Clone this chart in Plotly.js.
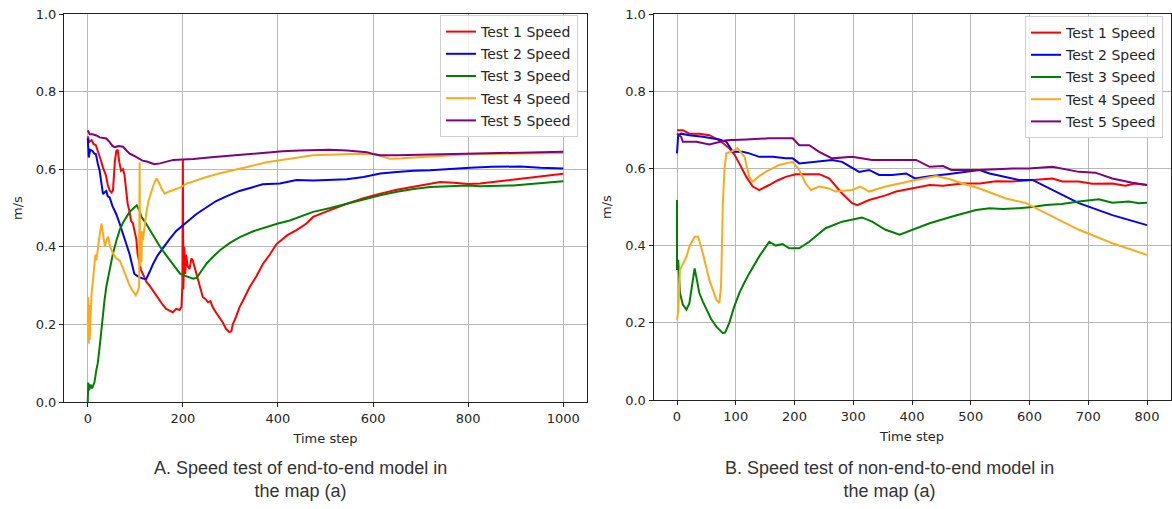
<!DOCTYPE html>
<html>
<head>
<meta charset="utf-8">
<script src="https://cdn.plot.ly/plotly-3.0.1.min.js"></script>
<style>html,body{margin:0;padding:0;background:#fff;}#chart{width:1172px;height:509px;}</style>
</head>
<body>
<div id="chart"></div>
<script>
// ---------- Chart A: end-to-end model ----------
const seriesNames = ["Test 1 Speed", "Test 2 Speed", "Test 3 Speed", "Test 4 Speed", "Test 5 Speed"];
const seriesColors = ["#ff0000", "#0000ff", "#008000", "#fcaa1c", "#800080"];

const a1x = [0,3,8,12,17,22,27,32,38,42,46,50,53,57,60,63,66,70,74,77,80,84,88,91,95,98,102,105,109,112,116,123,130,137,144,151,158,165,172,179,186,193,197,199,200,201,203,205,207,210,214,218,221,225,228,235,242,248,253,258,263,270,277,284,291,298,302,305,312,319,330,340,355,368,383,397,420,439,460,474,500,545,580,615,650,685,720,741,770,800,825,860,900,950,1000];
const a1y = [0.685,0.67,0.675,0.665,0.662,0.64,0.625,0.604,0.585,0.56,0.545,0.54,0.545,0.62,0.647,0.65,0.62,0.596,0.6,0.587,0.55,0.51,0.49,0.467,0.46,0.44,0.42,0.38,0.36,0.34,0.33,0.31,0.3,0.287,0.275,0.26,0.25,0.24,0.235,0.231,0.24,0.237,0.245,0.3,0.626,0.29,0.4,0.33,0.38,0.35,0.343,0.37,0.364,0.345,0.33,0.3,0.27,0.265,0.257,0.26,0.244,0.23,0.218,0.205,0.188,0.18,0.182,0.2,0.22,0.244,0.27,0.295,0.325,0.355,0.38,0.407,0.43,0.443,0.46,0.477,0.49,0.511,0.525,0.537,0.547,0.554,0.562,0.567,0.565,0.562,0.563,0.568,0.575,0.581,0.588];

const a2x = [0,2,5,10,14,17,21,25,28,32,35,39,42,46,52,60,67,74,81,88,93,98,104,109,116,123,130,137,147,158,172,186,207,228,250,270,295,319,345,368,404,439,474,510,545,580,615,650,685,720,760,804,850,909,952,1000];
const a2y = [0.68,0.63,0.65,0.647,0.64,0.639,0.615,0.596,0.57,0.536,0.54,0.544,0.53,0.527,0.505,0.484,0.46,0.433,0.405,0.381,0.355,0.33,0.325,0.321,0.318,0.317,0.335,0.355,0.378,0.398,0.42,0.441,0.463,0.484,0.502,0.518,0.532,0.544,0.553,0.561,0.563,0.572,0.571,0.572,0.574,0.58,0.589,0.593,0.596,0.597,0.601,0.604,0.606,0.607,0.604,0.602];

const a3x = [0,1,3,6,9,11,14,18,21,25,28,32,35,39,46,53,60,67,74,81,88,95,103,108,113,120,131,141,152,162,173,184,194,205,215,222,229,238,250,264,278,299,320,348,376,400,425,446,474,510,545,580,615,650,685,720,760,800,825,860,895,950,1000];
const a3y = [0.0,0.05,0.03,0.045,0.035,0.04,0.05,0.082,0.1,0.142,0.18,0.228,0.26,0.297,0.345,0.383,0.415,0.443,0.462,0.477,0.49,0.498,0.507,0.495,0.477,0.465,0.443,0.42,0.4,0.383,0.365,0.348,0.331,0.325,0.322,0.318,0.32,0.335,0.357,0.375,0.391,0.41,0.425,0.44,0.451,0.46,0.468,0.477,0.49,0.5,0.511,0.522,0.533,0.542,0.549,0.554,0.556,0.558,0.556,0.557,0.558,0.564,0.569];

const a4x = [0,1,2,3,4,6,8,11,14,16,18,21,25,29,32,36,40,43,47,53,60,67,74,81,88,95,101,105,108,109,110,111,113,114,116,119,123,128,134,140,145,150,155,162,170,180,195,208,230,250,280,306,340,376,410,446,474,510,545,575,601,620,636,660,685,720,755,790,825,900,1000];
const a4y = [0.2,0.27,0.15,0.25,0.16,0.22,0.28,0.314,0.35,0.38,0.365,0.4,0.43,0.46,0.43,0.4,0.42,0.426,0.4,0.383,0.37,0.365,0.345,0.322,0.3,0.285,0.275,0.285,0.297,0.618,0.35,0.42,0.36,0.44,0.417,0.45,0.486,0.52,0.546,0.565,0.576,0.565,0.55,0.537,0.542,0.546,0.553,0.563,0.572,0.58,0.59,0.597,0.607,0.618,0.625,0.631,0.636,0.638,0.639,0.64,0.639,0.632,0.627,0.628,0.63,0.633,0.636,0.638,0.639,0.641,0.642];

const a5x = [0,4,10,18,25,32,39,46,52,57,65,74,80,88,95,105,115,124,133,140,152,165,180,200,222,260,306,340,376,410,446,480,509,545,570,587,600,615,650,685,750,825,900,1000];
const a5y = [0.70,0.69,0.69,0.687,0.682,0.68,0.679,0.67,0.66,0.657,0.66,0.658,0.65,0.64,0.636,0.628,0.622,0.62,0.615,0.613,0.615,0.62,0.624,0.625,0.626,0.631,0.636,0.64,0.644,0.646,0.648,0.65,0.65,0.648,0.646,0.644,0.639,0.636,0.636,0.637,0.639,0.641,0.643,0.645];

// ---------- Chart B: non-end-to-end model ----------
const b1x = [0,10,21,38,55,72,89,98,106,118,129,140,157,170,185,202,220,242,259,270,281,298,307,327,345,355,373,400,430,453,486,515,543,571,599,620,639,656,684,707,741,763,780,800];
const b1y = [0.699,0.699,0.69,0.69,0.686,0.673,0.652,0.635,0.613,0.578,0.553,0.544,0.557,0.568,0.578,0.585,0.585,0.585,0.574,0.555,0.535,0.51,0.505,0.518,0.525,0.53,0.54,0.548,0.557,0.555,0.561,0.561,0.567,0.566,0.57,0.572,0.574,0.566,0.566,0.56,0.561,0.555,0.561,0.557];

const b2x = [0,2,7,21,44,72,84,95,112,123,140,163,185,197,208,231,264,281,300,310,327,344,366,390,405,430,460,486,515,532,560,582,605,639,684,741,800];
const b2y = [0.639,0.686,0.69,0.686,0.682,0.675,0.669,0.643,0.643,0.639,0.63,0.63,0.626,0.626,0.613,0.617,0.622,0.617,0.6,0.591,0.596,0.583,0.583,0.587,0.574,0.58,0.585,0.591,0.596,0.587,0.578,0.57,0.57,0.544,0.51,0.479,0.453];

const b3x = [0,0,2,4,5,10,16,21,25,30,34,38,44,50,58,67,78,82,89,97,106,115,123,140,157,168,180,191,208,225,253,281,300,315,332,355,379,400,430,470,509,532,555,582,605,628,655,684,718,741,769,786,800];
const b3y = [0.518,0.337,0.363,0.3,0.277,0.247,0.234,0.25,0.29,0.341,0.31,0.277,0.255,0.234,0.21,0.19,0.173,0.175,0.2,0.24,0.277,0.305,0.328,0.372,0.41,0.4,0.404,0.393,0.393,0.41,0.445,0.462,0.468,0.473,0.462,0.441,0.428,0.44,0.458,0.476,0.492,0.497,0.495,0.497,0.5,0.505,0.508,0.514,0.52,0.511,0.514,0.51,0.511];

const b4x = [0,2,5,10,16,21,30,36,44,55,67,72,75,78,81,84,92,103,115,123,129,140,151,174,197,208,219,228,242,259,270,298,312,327,355,400,441,465,486,515,560,594,628,684,741,800];
const b4y = [0.208,0.229,0.337,0.354,0.371,0.397,0.423,0.423,0.38,0.311,0.26,0.251,0.294,0.509,0.6,0.639,0.643,0.652,0.63,0.578,0.566,0.58,0.591,0.609,0.617,0.596,0.561,0.544,0.553,0.548,0.54,0.544,0.553,0.54,0.553,0.568,0.58,0.572,0.561,0.548,0.522,0.51,0.484,0.441,0.406,0.376];

const b5x = [0,7,10,33,55,72,84,118,157,197,208,225,242,264,298,332,355,407,430,453,467,515,571,599,639,684,712,741,775,800];
const b5y = [0.69,0.682,0.669,0.669,0.662,0.669,0.673,0.675,0.678,0.678,0.66,0.66,0.643,0.626,0.63,0.622,0.622,0.622,0.604,0.606,0.596,0.596,0.6,0.6,0.604,0.591,0.589,0.574,0.563,0.557];

const xTicksA = [0,200,400,600,800,1000];
const xTicksB = [0,100,200,300,400,500,600,700,800];
const yTicks = [0.0,0.2,0.4,0.6,0.8,1.0];
const yTickText = ["0.0","0.2","0.4","0.6","0.8","1.0"];
const xTitle = "Time step";
const yTitle = "m/s";
const captionA = "A. Speed test of end-to-end model in<br>the map (a)";
const captionB = "B. Speed test of non-end-to-end model in<br>the map (a)";

const dataA = [[a1x,a1y],[a2x,a2y],[a3x,a3y],[a4x,a4y],[a5x,a5y]];
const dataB = [[b1x,b1y],[b2x,b2y],[b3x,b3y],[b4x,b4y],[b5x,b5y]];

const traces = [];
dataA.forEach((d, i) => traces.push({
  x: d[0], y: d[1], type: "scatter", mode: "lines", name: seriesNames[i],
  line: {color: seriesColors[i], width: 2}, xaxis: "x", yaxis: "y",
  legend: "legend", legendgroup: "a" + i
}));
dataB.forEach((d, i) => traces.push({
  x: d[0], y: d[1], type: "scatter", mode: "lines", name: seriesNames[i],
  line: {color: seriesColors[i], width: 2}, xaxis: "x2", yaxis: "y2",
  legend: "legend2", legendgroup: "b" + i
}));

const W = 1172, H = 509;
const tickFont = {family: "DejaVu Sans", size: 13, color: "#262626"};
const titleFont = {family: "DejaVu Sans", size: 13, color: "#262626"};

function xax(domain, range, ticks, anchor) {
  return {domain: domain, range: range, tickvals: ticks, ticktext: ticks.map(String),
    showgrid: true, gridcolor: "#b8b8b8", gridwidth: 1, zeroline: false,
    showline: true, mirror: true, linecolor: "#222", linewidth: 1,
    ticks: "outside", ticklen: 4, tickcolor: "#222", tickfont: tickFont,
    title: {text: xTitle, font: titleFont, standoff: 9}, anchor: anchor, fixedrange: true};
}
function yax(domain, anchor) {
  return {domain: domain, range: [0, 1], tickvals: yTicks, ticktext: yTickText,
    showgrid: true, gridcolor: "#b8b8b8", gridwidth: 1, zeroline: false,
    showline: true, mirror: true, linecolor: "#222", linewidth: 1,
    ticks: "outside", ticklen: 4, tickcolor: "#222", tickfont: tickFont,
    title: {text: yTitle, font: titleFont, standoff: 10}, anchor: anchor, fixedrange: true};
}

const legendStyle = {
  bgcolor: "rgba(255,255,255,0.85)", bordercolor: "#d0d0d0", borderwidth: 1,
  font: {family: "DejaVu Sans", size: 14, color: "#262626"},
  tracegroupgap: 1, xanchor: "right", yanchor: "top"
};

const layout = {
  width: W, height: H, margin: {l: 0, r: 0, t: 0, b: 0},
  paper_bgcolor: "#fff", plot_bgcolor: "#fff",
  xaxis: xax([64/W, 587/W], [-50, 1050], xTicksA, "y"),
  yaxis: yax([(H-402)/H, (H-14)/H], "x"),
  xaxis2: xax([653.5/W, 1170.5/W], [-40, 840], xTicksB, "y2"),
  yaxis2: yax([(H-400)/H, (H-14)/H], "x2"),
  legend: Object.assign({x: 578/W, y: (H-15)/H}, legendStyle),
  legend2: Object.assign({x: 1163/W, y: (H-16)/H}, legendStyle),
  annotations: [
    {text: captionA, x: 300/W, y: (H-479)/H, xref: "paper", yref: "paper",
     xanchor: "center", yanchor: "middle", showarrow: false,
     font: {family: "Liberation Sans", size: 18, color: "#333"}},
    {text: captionB, x: 889/W, y: (H-479)/H, xref: "paper", yref: "paper",
     xanchor: "center", yanchor: "middle", showarrow: false,
     font: {family: "Liberation Sans", size: 18, color: "#333"}}
  ]
};

Plotly.newPlot("chart", traces, layout, {displayModeBar: false, staticPlot: true});
</script>
</body>
</html>
